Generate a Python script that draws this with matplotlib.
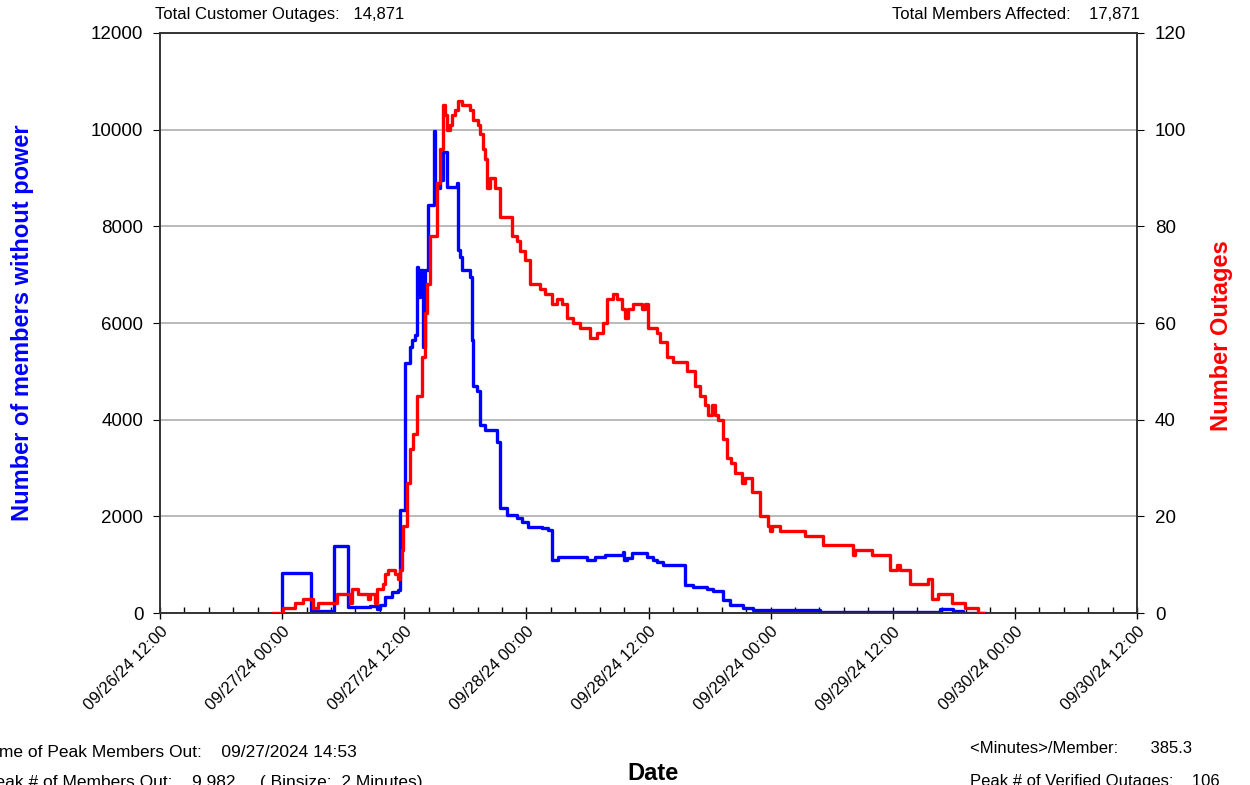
import pandas as pd
import matplotlib
matplotlib.use("Agg")
import matplotlib.pyplot as plt
import matplotlib.dates as mdates
from matplotlib.ticker import AutoMinorLocator

plt.rcParams['font.family'] = ['Liberation Sans', 'DejaVu Sans']

# hours after 09/27/24 00:00, members without power (step series)
members_hours = [-0.05, 0.00, 2.85, 5.11, 6.49, 8.65, 9.34, 9.63, 10.12, 10.81, 11.40, 11.60,
                 12.09, 12.58, 12.78, 13.07, 13.27, 13.37, 13.56, 13.86, 14.06, 14.35, 14.88,
                 15.05, 15.53, 15.83, 16.22, 17.20, 17.30, 17.50, 17.69, 18.48, 18.68, 18.78,
                 19.17, 19.46, 19.95, 21.13, 21.43, 22.12, 23.10, 23.59, 24.18, 25.56, 26.15,
                 26.54, 27.13, 29.98, 30.77, 31.75, 33.52, 33.62, 33.91, 34.41, 35.88, 36.47,
                 36.86, 37.45, 39.61, 40.40, 41.78, 42.37, 43.35, 44.04, 45.32, 46.30, 52.89,
                 63.40, 64.68, 65.96, 66.94, 69.10]
members_out = [0, 820, 40, 1380, 130, 150, 90, 170, 330, 430, 480, 2130,
               5170, 5500, 5650, 5750, 7160, 6540, 7100, 5500, 7100, 8440, 9982,
               8800, 8960, 9540, 8810, 8900, 7510, 7370, 7100, 6950, 5650, 4700,
               4600, 3900, 3780, 3540, 2170, 2030, 1970, 1880, 1780, 1760, 1720,
               1100, 1160, 1100, 1160, 1200, 1260, 1100, 1130, 1240, 1160, 1100,
               1060, 990, 580, 540, 500, 460, 270, 170, 100, 60, 20,
               20, 80, 50, 0, 0]

# hours after 09/27/24 00:00, number of outages (step series)
outage_hours = [-0.88, 0.10, 1.28, 2.06, 2.95, 3.05, 3.54, 5.41, 6.68, 6.88, 7.47, 8.45,
                8.65, 9.14, 9.34, 9.93, 10.12, 10.42, 10.62, 11.11, 11.40, 11.60, 11.80,
                11.89, 12.29, 12.58, 12.88, 13.27, 13.76, 14.06, 14.25, 14.55, 15.24, 15.53,
                15.83, 16.02, 16.22, 16.51, 16.71, 17.01, 17.30, 17.69, 18.48, 18.78, 19.27,
                19.46, 19.76, 19.95, 20.15, 20.45, 20.94, 21.43, 22.12, 22.61, 23.10, 23.40,
                23.89, 24.38, 24.87, 25.36, 25.85, 26.54, 27.03, 27.52, 28.02, 28.61, 29.29,
                30.28, 30.96, 31.55, 31.95, 32.54, 32.93, 33.42, 33.72, 34.01, 34.50, 35.39,
                35.68, 35.98, 36.86, 37.16, 37.85, 38.44, 39.81, 40.60, 41.09, 41.58, 41.88,
                42.27, 42.56, 42.86, 43.35, 43.74, 44.14, 44.53, 45.22, 45.51, 46.20, 46.99,
                47.77, 47.97, 48.17, 48.95, 51.41, 53.18, 56.13, 56.33, 58.00, 59.77, 60.45,
                60.75, 61.73, 63.50, 63.90, 64.39, 64.48, 65.86, 67.14, 68.42, 68.91]
outages = [0, 1, 2, 3, 3, 1, 2, 4, 2, 5, 4, 3,
           4, 2, 5, 6, 8, 9, 9, 8, 7, 9, 13,
           18, 27, 34, 37, 45, 53, 62, 68, 78, 89, 96,
           105, 103, 100, 101, 103, 104, 106, 105, 104, 102, 101,
           99, 96, 94, 88, 90, 88, 82, 82, 78, 77, 75,
           73, 68, 68, 67, 66, 64, 65, 64, 61, 60, 59,
           57, 58, 60, 65, 66, 65, 63, 61, 63, 64, 63,
           64, 59, 58, 56, 53, 52, 50, 47, 45, 43, 41,
           43, 41, 40, 36, 32, 31, 29, 27, 28, 25, 20,
           18, 17, 18, 17, 16, 14, 12, 13, 12, 9, 10,
           9, 6, 7, 3, 3, 4, 2, 1, 0, 0]

base = pd.Timestamp('2024-09-27 00:00')
members_time = base + pd.to_timedelta(members_hours, unit='h')
outage_time = base + pd.to_timedelta(outage_hours, unit='h')

fig = plt.figure(figsize=(12.5, 7.85), dpi=100)
ax = fig.add_axes([0.128, 0.219, 0.7816, 0.739])
ax2 = ax.twinx()

ax.step(members_time, members_out, where='post', color='#0000ff', lw=2.4, zorder=3)
ax2.step(outage_time, outages, where='post', color='#ff0000', lw=2.4, zorder=4)

ax.set_xlim(pd.Timestamp('2024-09-26 12:00'), pd.Timestamp('2024-09-30 12:00'))
ax.set_ylim(0, 12000)
ax2.set_ylim(0, 120)
ax.set_yticks(range(0, 12001, 2000))
ax2.set_yticks(range(0, 121, 20))
ax.yaxis.grid(True, color='#b4b4b4', lw=1.3)
ax.set_axisbelow(True)

ax.xaxis.set_major_locator(mdates.HourLocator(byhour=[0, 12]))
ax.xaxis.set_major_formatter(mdates.DateFormatter('%m/%d/%y %H:%M'))
ax.xaxis.set_minor_locator(AutoMinorLocator(5))
ax.tick_params(axis='x', which='major', direction='inout', length=9, width=1, labelsize=12)
ax.tick_params(axis='x', which='minor', direction='in', length=4, width=1)
for lab in ax.get_xticklabels():
    lab.set_rotation(45)
    lab.set_ha('right')
    lab.set_va('top')
    lab.set_rotation_mode('anchor')
ax.tick_params(axis='y', direction='out', length=5, pad=7, labelsize=13.5)
ax2.tick_params(axis='y', direction='out', length=5, pad=8, labelsize=13.5)

for a in (ax, ax2):
    for s in a.spines.values():
        s.set_color('#333333')
        s.set_linewidth(1.2)

fig.text(0.018, 0.589, 'Number of members without power', rotation=90, color='#0000ff',
         fontsize=17, fontweight='bold', ha='center', va='center')
fig.text(0.977, 0.573, 'Number Outages', rotation=90, color='#ff0000',
         fontsize=17, fontweight='bold', ha='center', va='center')
fig.text(0.5225, 0.015, 'Date', fontsize=17, fontweight='bold', ha='center', va='center')

fig.text(0.124, 0.981, 'Total Customer Outages:   14,871', fontsize=12,
         ha='left', va='center')
fig.text(0.912, 0.981, 'Total Members Affected:    17,871', fontsize=12,
         ha='right', va='center')
fig.text(-0.012, 0.042, 'Time of Peak Members Out:    09/27/2024 14:53', fontsize=12.5,
         ha='left', va='center')
fig.text(-0.013, 0.003, 'Peak # of Members Out:    9,982     ( Binsize:  2 Minutes)',
         fontsize=12.5, ha='left', va='center')
fig.text(0.776, 0.047, '<Minutes>/Member:       385.3', fontsize=12,
         ha='left', va='center')
fig.text(0.776, 0.004, 'Peak # of Verified Outages:    106', fontsize=12,
         ha='left', va='center')

fig.savefig('out.png', dpi=100)
